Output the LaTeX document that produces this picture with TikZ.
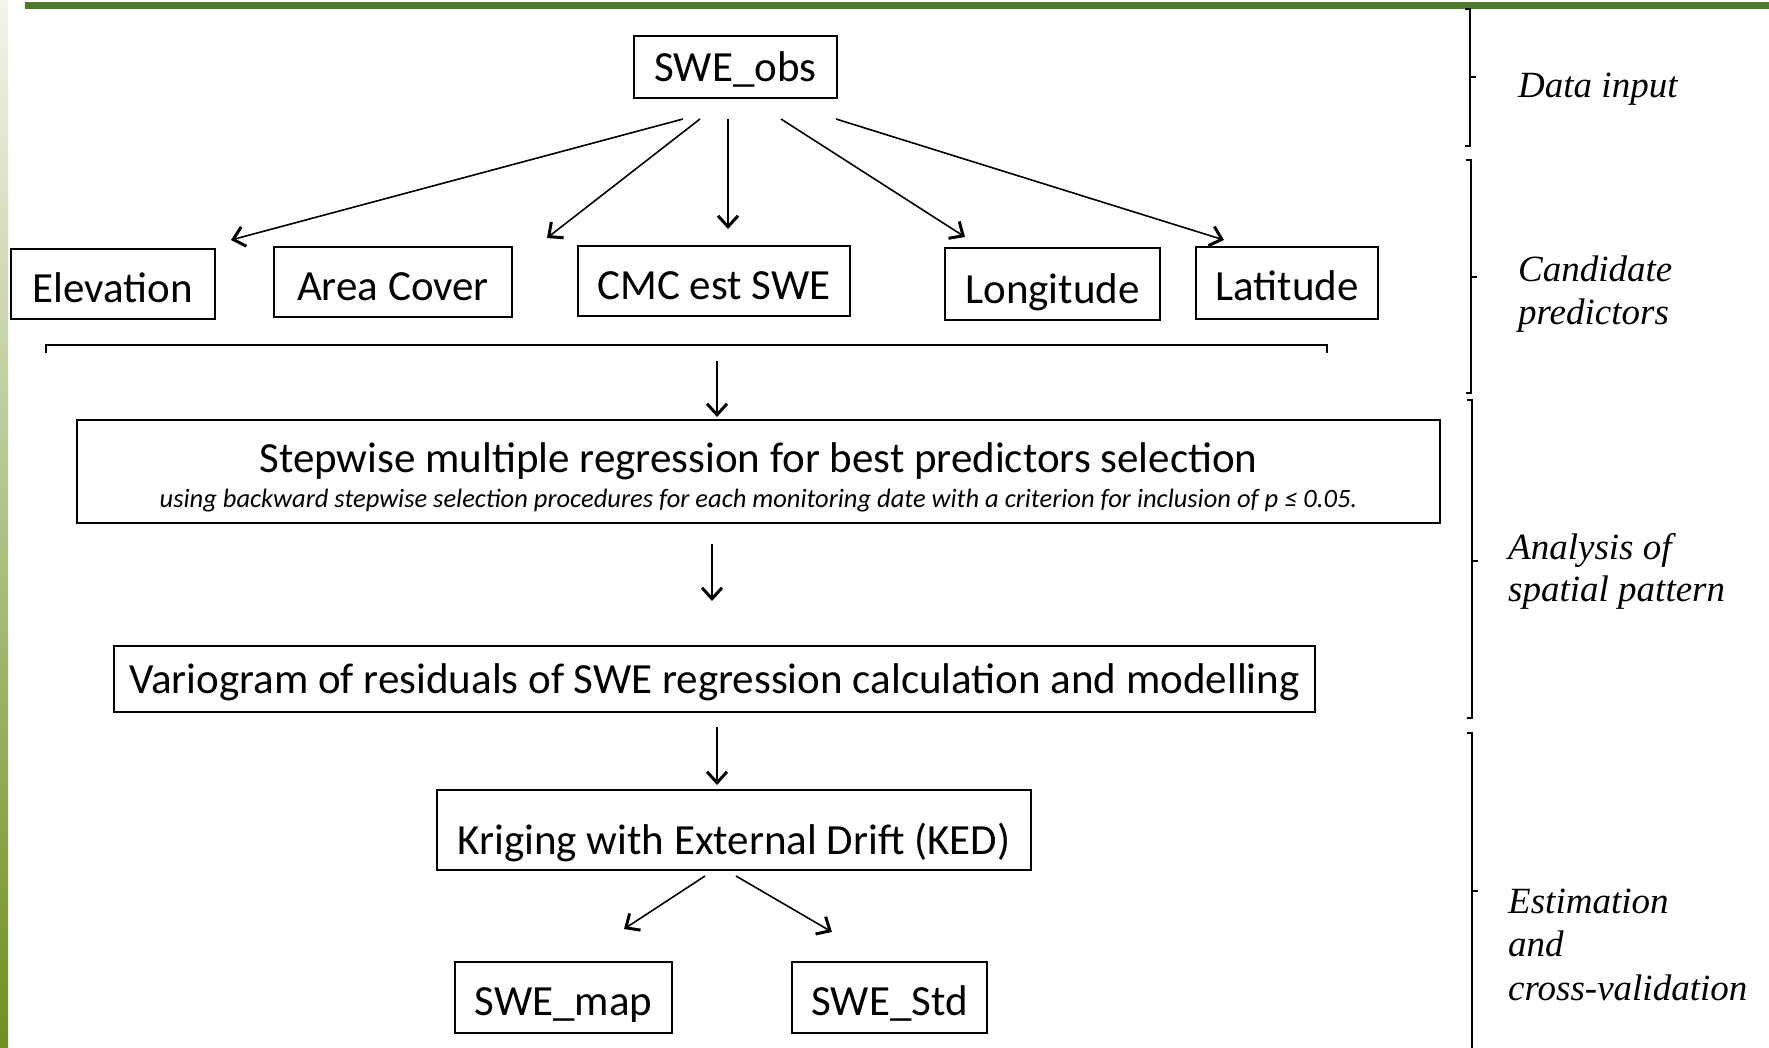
\documentclass[tikz,border=0pt]{standalone}
\usepackage{fontspec}
\setmainfont{Carlito}
\newfontfamily\tms{Liberation Serif}
\usetikzlibrary{arrows.meta,calc}
\definecolor{bargreen}{HTML}{4E7A2B}
\definecolor{bartop}{HTML}{F2F4EA}
\definecolor{barbot}{HTML}{6F9020}
\begin{document}
\begin{tikzpicture}[x=1pt,y=-1pt,
  box/.style={draw,line width=2pt,inner sep=0pt,font=\fontsize{43}{50}\selectfont,text height=29pt,text depth=0pt},
  txt/.style={inner sep=0pt},
  arr/.style={line width=1.6pt,-{Straight Barb[length=11pt,width=20pt,line width=3pt]}},
  brk/.style={line width=2pt},
  lbl/.style={font=\tms\itshape\fontsize{37}{43}\selectfont,anchor=base west,inner sep=0pt}]
\useasboundingbox (0,0) rectangle (1769,1047);
\fill[white] (0,0) rectangle (1769,1047);
% decorations
\shade[top color=bartop,bottom color=barbot] (0,0) rectangle (8,1047);
\fill[bargreen] (25,2) rectangle (1769,9);
% nodes
\node[box,minimum width=203pt,minimum height=62pt] (obs) at (735.5,67) {SWE\_obs};
\node[box,text height=36pt,minimum width=204pt,minimum height=70pt] (elev) at (113,284) {Elevation};
\node[box,text height=36pt,minimum width=238pt,minimum height=70pt] (area) at (393,282) {Area Cover};
\node[box,text height=36pt,minimum width=272pt,minimum height=70pt] (cmc) at (714,281) {CMC est SWE};
\node[box,text height=38pt,minimum width=215pt,minimum height=72pt] (lon) at (1052.5,284) {Longitude};
\node[box,text height=34pt,minimum width=182pt,minimum height=72pt] (lat) at (1287,283) {Latitude};
\node[box,minimum width=1363pt,minimum height=103pt] (step) at (758.5,471.5) {};
\node[txt,font=\fontsize{43}{50}\selectfont,anchor=base] (stepmain) at (758.5,472) {Stepwise multiple regression for best predictors selection};
\node[txt,font=\itshape\fontsize{26.5}{30}\selectfont,anchor=base] (stepsub) at (758.5,507) {using backward stepwise selection procedures for each monitoring date with a criterion for inclusion of p ≤ 0.05.};
\node[box,minimum width=1201pt,minimum height=66pt] (vario) at (714.5,679) {Variogram of residuals of SWE regression calculation and modelling};
\node[box,text height=48pt,minimum width=594pt,minimum height=80pt] (ked) at (734,830) {Kriging with External Drift (KED)};
\node[box,text height=36pt,minimum width=217pt,minimum height=71pt] (map) at (563.5,997.5) {SWE\_map};
\node[box,text height=36pt,minimum width=195pt,minimum height=71pt] (std) at (889.5,997.5) {SWE\_Std};
% bracket under predictors
\coordinate (bl) at (46,353);
\coordinate (br) at (1327,353);
\draw[line width=1.5pt] (bl) -- ++(0,-8) -- ($(br)+(0,-8)$) -- (br);
% arrow endpoints
\coordinate (s1) at ($(obs.south)+(-52.5,20)$);
\coordinate (s2) at ($(obs.south)+(-35.5,20)$);
\coordinate (s3) at ($(obs.south)+(-7.5,20)$);
\coordinate (s4) at ($(obs.south)+(45.5,20)$);
\coordinate (s5) at ($(obs.south)+(100.5,20)$);
\coordinate (e1) at (231,240);
\coordinate (e2) at (547,238);
\coordinate (e3) at (728,229);
\coordinate (e4) at (965,237);
\coordinate (e5) at (1224,240);
\draw[arr] (s1) -- (e1);
\draw[arr] (s2) -- (e2);
\draw[arr] (s3) -- (e3);
\draw[arr] (s4) -- (e4);
\draw[arr] (s5) -- (e5);
\coordinate (a1) at (717,361);
\coordinate (a1e) at (717,417);
\draw[arr] (a1) -- (a1e);
\coordinate (a2) at (712,544);
\coordinate (a2e) at (712,601);
\draw[arr] (a2) -- (a2e);
\coordinate (a3) at (717,727);
\coordinate (a3e) at (717,785);
\draw[arr] (a3) -- (a3e);
\coordinate (k1) at (705,876);
\coordinate (k1e) at (624,929);
\coordinate (k2) at (736,876);
\coordinate (k2e) at (832,932);
\draw[arr] (k1) -- (k1e);
\draw[arr] (k2) -- (k2e);
% right braces
\draw[brk] (1465,9) -- (1470,9) -- (1470,146) -- (1465,146);
\draw[brk] (1470,77) -- (1476,77);
\draw[brk] (1466,160) -- (1471,160) -- (1471,393) -- (1466,393);
\draw[brk] (1471,277) -- (1477,277);
\draw[brk] (1467,400) -- (1472,400) -- (1472,718) -- (1467,718);
\draw[brk] (1472,561) -- (1478,561);
\draw[brk] (1467,733) -- (1472,733) -- (1472,1050);
\draw[brk] (1472,891) -- (1478,891);
% labels
\node[lbl] (l1) at (1518,97) {Data input};
\node[lbl] (l2a) at (1518,281) {Candidate};
\node[lbl] (l2b) at (1518,324) {predictors};
\node[lbl] (l3a) at (1508,559) {Analysis of};
\node[lbl] (l3b) at (1508,601) {spatial pattern};
\node[lbl] (l4a) at (1508,913) {Estimation};
\node[lbl] (l4b) at (1508,956) {and};
\node[lbl] (l4c) at (1508,1000) {cross-validation};
\end{tikzpicture}
\end{document}
